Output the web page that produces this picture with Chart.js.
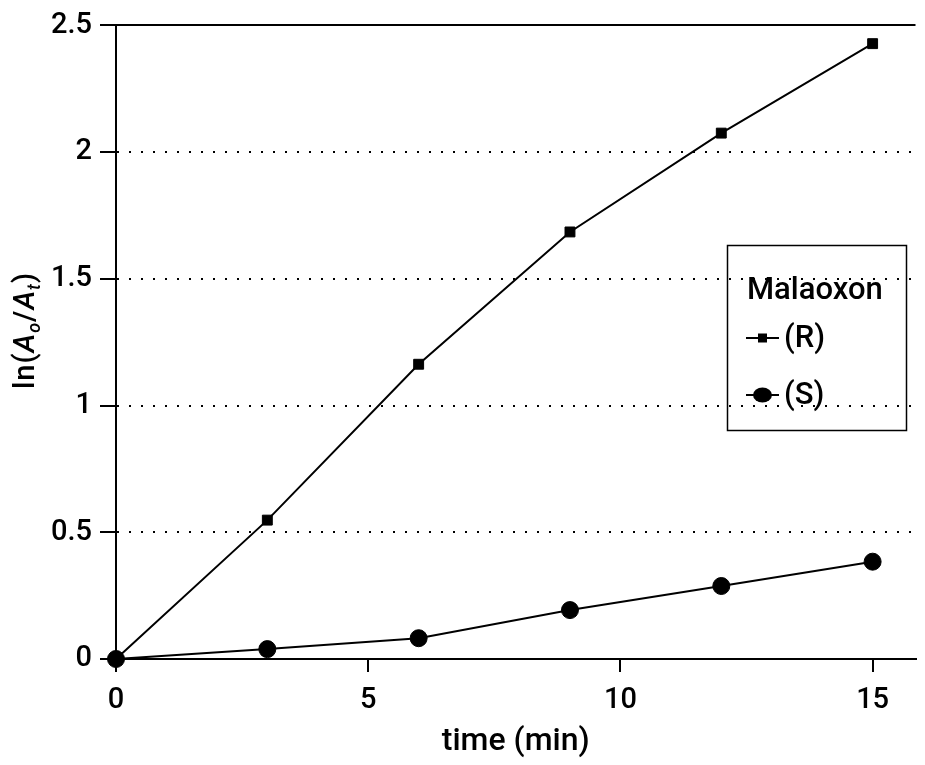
<!DOCTYPE html>
<html>
<head>
<meta charset="utf-8">
<script src="https://cdn.jsdelivr.net/npm/chart.js@4/dist/chart.umd.min.js"></script>
<style>
  html, body { margin: 0; padding: 0; background: #fff; }
</style>
</head>
<body>
<canvas id="rate" width="925" height="765"></canvas>
<script>
// values
const TIMES = [0, 3, 6, 9, 12, 15];
const R_VALUES = [0, 0.548, 1.163, 1.685, 2.075, 2.428];
const S_VALUES = [0, 0.039, 0.082, 0.193, 0.288, 0.384];
const X_TICKS = [0, 5, 10, 15];
const Y_TICKS = [0, 0.5, 1, 1.5, 2, 2.5];
const SERIES_NAMES = ['(R)', '(S)'];
const LEGEND_TITLE = 'Malaoxon';

const FONT = "Roboto, 'Liberation Sans', sans-serif";

const toPoints = (vals) => TIMES.map((t, i) => ({ x: t, y: vals[i] }));

// y title has italics and subscripts, so it's drawn by hand
const yTitle = {
  id: 'yTitle',
  afterDraw(chart) {
    const ctx = chart.ctx;
    const gap = 1;
    const big = '500 29px ' + FONT;
    const bigI = 'italic 500 29px ' + FONT;
    const small = 'italic 500 18px ' + FONT;
    const parts = [
      { t: 'l', f: big, dy: 0 },
      { t: 'n', f: big, dy: 0 },
      { t: '(', f: big, dy: 0 },
      { t: 'A', f: bigI, dy: 0 },
      { t: 'o', f: small, dy: 6 },
      { t: '/', f: big, dy: 0 },
      { t: 'A', f: bigI, dy: 0 },
      { t: 't', f: small, dy: 6 },
      { t: ')', f: big, dy: 0 }
    ];
    ctx.save();
    let w = 0;
    parts.forEach(p => { ctx.font = p.f; p.w = ctx.measureText(p.t).width + gap; w += p.w; });
    w -= gap;
    ctx.translate(34, 331);
    ctx.rotate(-Math.PI / 2);
    ctx.fillStyle = '#000';
    ctx.textBaseline = 'alphabetic';
    let x = -w / 2;
    parts.forEach(p => { ctx.font = p.f; ctx.fillText(p.t, x, p.dy); x += p.w; });
    ctx.restore();
  }
};

// boxed legend sitting inside the plot
const boxLegend = {
  id: 'boxLegend',
  afterDraw(chart) {
    const ctx = chart.ctx;
    const box = { x: 727.5, y: 245.5, w: 179, h: 185 };
    ctx.save();
    ctx.strokeStyle = '#000';
    ctx.lineWidth = 1.5;
    ctx.strokeRect(box.x, box.y, box.w, box.h);
    ctx.fillStyle = '#000';
    ctx.font = '500 31px ' + FONT;
    ctx.textBaseline = 'alphabetic';
    ctx.fillText(LEGEND_TITLE, 747, 299);
    const rows = [338, 395];
    chart.data.datasets.forEach((ds, i) => {
      const y = rows[i];
      ctx.lineWidth = 2;
      ctx.beginPath();
      ctx.moveTo(746, y);
      ctx.lineTo(779, y);
      ctx.stroke();
      ctx.beginPath();
      if (ds.pointStyle === 'rect') {
        ctx.rect(758, y - 4.5, 9, 9);
      } else {
        ctx.ellipse(762.5, y, 9.5, 7.5, 0, 0, Math.PI * 2);
      }
      ctx.fill();
      ctx.font = '500 31px ' + FONT;
      ctx.textBaseline = 'middle';
      ctx.fillText(ds.label, 784, y + 1);
    });
    ctx.restore();
  }
};

new Chart(document.getElementById('rate'), {
  type: 'line',
  data: {
    datasets: [{
      label: SERIES_NAMES[0],
      data: toPoints(R_VALUES),
      borderColor: '#000',
      backgroundColor: '#000',
      borderWidth: 2,
      pointStyle: 'rect',
      pointRadius: 7,
      pointBorderWidth: 1,
      clip: false
    }, {
      label: SERIES_NAMES[1],
      data: toPoints(S_VALUES),
      borderColor: '#000',
      backgroundColor: '#000',
      borderWidth: 2,
      pointStyle: 'circle',
      pointRadius: 8.5,
      pointBorderWidth: 1,
      clip: false
    }]
  },
  options: {
    responsive: false,
    devicePixelRatio: 1,
    animation: false,
    layout: { padding: { top: 25, right: 0, left: 0, bottom: 0 } },
    plugins: {
      legend: { display: false },
      tooltip: { enabled: false }
    },
    scales: {
      x: {
        type: 'linear',
        min: 0,
        max: 15.85,
        afterBuildTicks: (s) => { s.ticks = X_TICKS.map(v => ({ value: v })); },
        afterFit: (s) => { s.height = 106; },
        grid: {
          drawOnChartArea: false,
          color: '#000',
          lineWidth: 2,
          tickLength: 13
        },
        border: { color: '#000', width: 2 },
        ticks: {
          color: '#000',
          padding: 11,
          font: { family: FONT, size: 29, weight: '500' },
          maxRotation: 0
        },
        title: {
          display: true,
          text: 'time (min)',
          color: '#000',
          font: { family: FONT, size: 32, weight: '500' },
          padding: { top: 9 }
        }
      },
      y: {
        min: 0,
        max: 2.5,
        afterBuildTicks: (s) => { s.ticks = Y_TICKS.map(v => ({ value: v })); },
        afterFit: (s) => { s.width = 116; },
        grid: {
          color: '#000',
          lineWidth: 2,
          tickLength: 16
        },
        border: {
          color: '#000',
          width: 2,
          dash: (ctx) => (ctx.tick && ctx.tick.value > 0 && ctx.tick.value < 2.5) ? [2, 10] : []
        },
        ticks: {
          color: '#000',
          padding: 8,
          font: { family: FONT, size: 29, weight: '500' },
          callback: (v) => String(v)
        }
      }
    }
  },
  plugins: [yTitle, boxLegend]
});
</script>
</body>
</html>
